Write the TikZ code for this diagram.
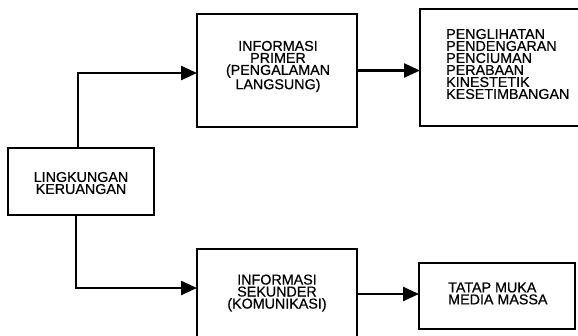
\documentclass[tikz,border=0pt]{standalone}
\usepackage{fontspec}
\setmainfont[FakeBold=0.6]{Liberation Sans}
\usetikzlibrary{arrows.meta}
\begin{document}
\begin{tikzpicture}[x=1pt,y=-1pt,
  box/.style={draw,line width=1.4pt,inner sep=0pt,outer sep=0pt},
  lbl/.style={font=\fontsize{14.3}{12}\selectfont,inner sep=0pt},
  conn/.style={line width=2.4pt,-{Triangle[length=16pt,width=14pt]}}]
\useasboundingbox (0,0) rectangle (578,335);
\clip (0,0) rectangle (578,335);
% boxes
\node[box, minimum width=146, minimum height=67] (lk) at (81,181.5) {};
\node[box, minimum width=160, minimum height=113] (prim) at (277,70.5) {};
\node[box, minimum width=162, minimum height=117] (sens) at (501,67.5) {};
\node[box, minimum width=160, minimum height=96] (sek) at (277,297) {};
\node[box, minimum width=156, minimum height=66] (kom) at (497,296) {};
% texts
\node[lbl, align=center] (lkT) at (81,183) {LINGKUNGAN\\KERUANGAN};
\node[lbl, align=center] (primT) at (278,66.5) {INFORMASI\\PRIMER\\(PENGALAMAN\\LANGSUNG)};
\node[lbl, align=left, anchor=west] (sensT) at (446,64) {PENGLIHATAN\\PENDENGARAN\\PENCIUMAN\\PERABAAN\\KINESTETIK\\KESETIMBANGAN};
\node[lbl, align=center] (sekT) at (277,293) {INFORMASI\\SEKUNDER\\(KOMUNIKASI)};
\node[lbl, align=left, anchor=west] (komT) at (448,293.5) {TATAP MUKA\\MEDIA MASSA};
% connectors
\coordinate (c1) at (78,73);
\coordinate (c2) at (76,288);
\coordinate (c4) at (0,294);
\draw[conn] (lk.north -| c1) |- (prim.west |- c1);
\draw[conn] (lk.south -| c2) |- (sek.west |- c2);
\draw[conn] (prim.east) -- (prim.east -| sens.west);
\draw[conn] (sek.east |- c4) -- (kom.west |- c4);
\end{tikzpicture}
\end{document}
